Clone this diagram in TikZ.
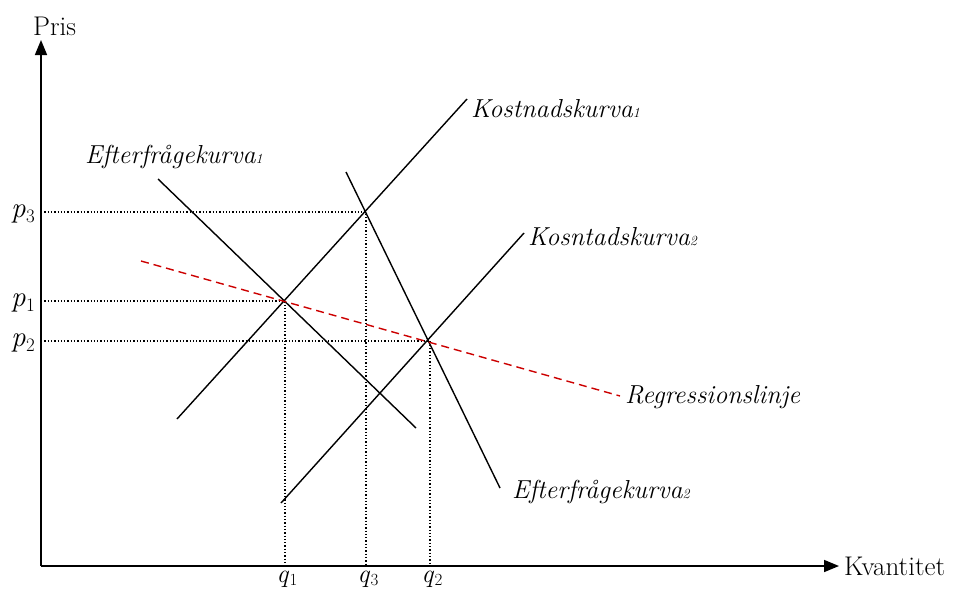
\documentclass[tikz,border=0pt]{standalone}
\usepackage{fontspec}
\usetikzlibrary{arrows.meta}
\newcommand{\msub}[2]{\textit{#1}\kern0.5pt\raisebox{-0.2em}{\fontsize{19}{20}\selectfont #2}}
\newcommand{\qsub}[2]{\textit{#1}\kern0.5pt\raisebox{-0.15em}{\fontsize{17}{18}\selectfont #2}}
\begin{document}
\begin{tikzpicture}[x=1pt,y=-1pt,
  axis/.style={line width=1.6pt,-{Triangle[length=15pt,width=12pt]}},
  curve/.style={line width=1.4pt},
  guide/.style={line width=1.3pt,dotted},
  regline/.style={line width=1.4pt,dashed,dash pattern=on 8pt off 5pt,draw=red!80!black},
  lbl/.style={font=\fontsize{26}{30}\selectfont\itshape,inner sep=0pt},
  axlbl/.style={font=\fontsize{27}{30}\selectfont,inner sep=0pt},
  mlbl/.style={font=\fontsize{29}{32}\selectfont,inner sep=0pt},
  qlbl/.style={font=\fontsize{26}{30}\selectfont,inner sep=0pt}]
\useasboundingbox (0,0) rectangle (957,589);
% axes
\coordinate (O) at (41,566);
\coordinate (Ytop) at (41,40);
\coordinate (Xend) at (839,566);
\draw[axis] (O) -- (Ytop);
\draw[axis] (O) -- (Xend);
\node[axlbl,anchor=base west] (pris) at (33,35) {Pris};
\node[axlbl,anchor=west] (kvant) at (844,566) {Kvantitet};
% equilibrium points
\coordinate (E1) at (285,301);
\coordinate (E2) at (430,341);
\coordinate (E3) at (366,212);
\coordinate (Y1) at (41,301);
\coordinate (Y2) at (41,341);
\coordinate (Y3) at (41,212);
\coordinate (X1) at (285,566);
\coordinate (X2) at (430,566);
\coordinate (X3) at (366,566);
\draw[guide] (Y3) -- (E3) -- (X3);
\draw[guide] (Y1) -- (E1) -- (X1);
\draw[guide] (Y2) -- (E2) -- (X2);
\node[mlbl,anchor=base east] (p3) at (35,217) {\msub{p}{3}};
\node[mlbl,anchor=base east] (p1) at (35,306) {\msub{p}{1}};
\node[mlbl,anchor=base east] (p2) at (35,346) {\msub{p}{2}};
\node[qlbl,anchor=base] (q1) at (287,582) {\qsub{q}{1}};
\node[qlbl,anchor=base] (q3) at (368,582) {\qsub{q}{3}};
\node[qlbl,anchor=base] (q2) at (432,582) {\qsub{q}{2}};
% curves
\coordinate (K1a) at (177,419);
\coordinate (K1b) at (467,99);
\coordinate (K2a) at (281,503);
\coordinate (K2b) at (524,233);
\coordinate (D1a) at (158,179);
\coordinate (D1b) at (416,428);
\coordinate (D2a) at (346,172);
\coordinate (D2b) at (500,488);
\coordinate (Ra) at (141,261);
\coordinate (Rb) at (620,396);
\draw[curve] (K1a) -- (K1b);
\draw[curve] (K2a) -- (K2b);
\draw[curve] (D1a) -- (D1b);
\draw[curve] (D2a) -- (D2b);
\draw[regline] (Ra) -- (Rb);
\node[lbl,anchor=west] (k1) at (471,109) {Kostnadskurva{\fontsize{14}{16}\selectfont 1}};
\node[lbl,anchor=west] (k2) at (528,237) {Kosntadskurva{\fontsize{14}{16}\selectfont 2}};
\node[lbl,anchor=west] (d1) at (85,157) {Efterfrågekurva{\fontsize{14}{16}\selectfont 1}};
\node[lbl,anchor=west] (d2) at (512,492) {Efterfrågekurva{\fontsize{14}{16}\selectfont 2}};
\node[lbl,anchor=west] (reg) at (625,397) {Regressionslinje};
\end{tikzpicture}
\end{document}
